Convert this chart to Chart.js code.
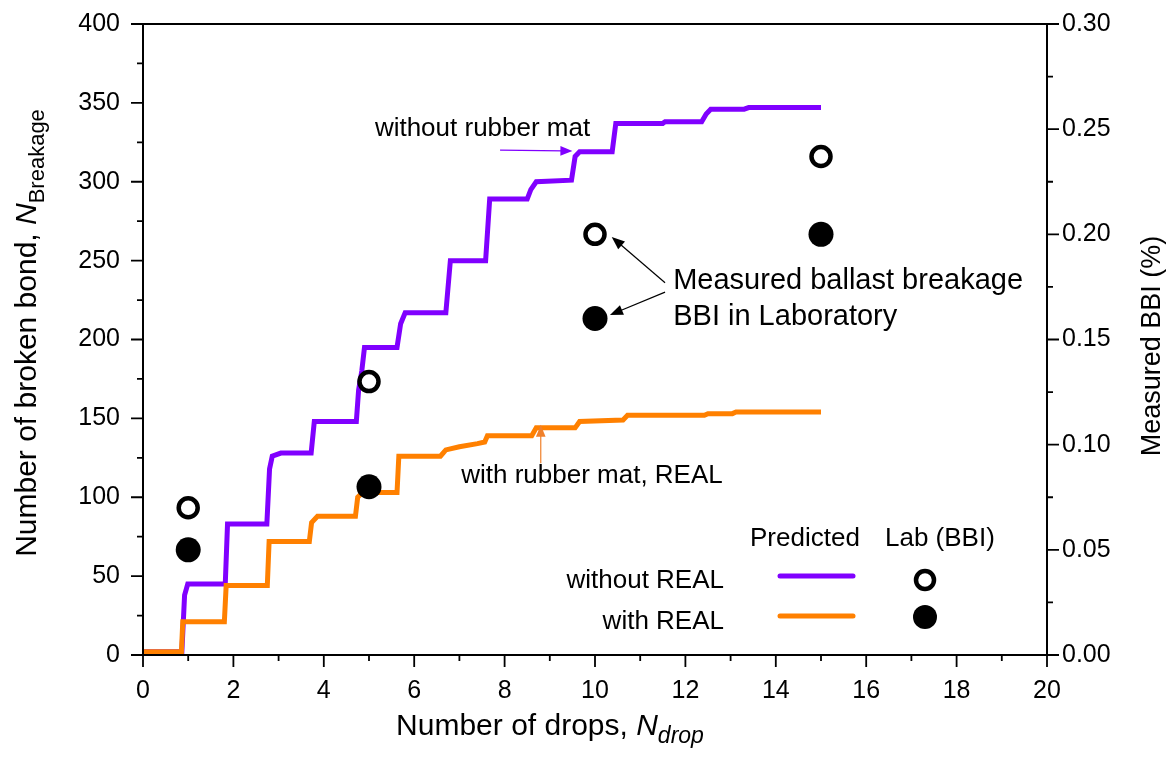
<!DOCTYPE html>
<html>
<head>
<meta charset="utf-8">
<script src="https://cdn.jsdelivr.net/npm/chart.js@4.4.1/dist/chart.umd.min.js"></script>
<style>
  body { margin: 0; background: #fff; }
</style>
</head>
<body>
<canvas id="myChart" width="1170" height="758"></canvas>
<script>
// predicted broken bonds (DEM), step curves
const withoutRealX = [0, 0.86, 0.92, 0.99, 1.82, 1.87, 2.74, 2.8, 2.86, 3.05, 3.72, 3.79, 4.72, 4.77, 4.84, 4.9, 5.62, 5.7, 5.8, 6.7, 6.8, 7.58, 7.67, 8.5, 8.58, 8.7, 9.48, 9.56, 9.66, 10.38, 10.46, 11.5, 11.55, 12.36, 12.46, 12.56, 13.3, 13.4, 15];
const withoutRealY = [2, 2, 38, 45, 45, 83, 83, 118, 126, 128, 128, 148, 148, 168, 180, 195, 195, 210, 217, 217, 250, 250, 289, 289, 295, 300, 301, 316, 319, 319, 337, 337, 338, 338, 343, 346, 346, 347, 347];

const withRealX = [0, 0.85, 0.88, 1.8, 1.84, 2.75, 2.79, 3.68, 3.73, 3.86, 4.7, 4.75, 4.86, 5.62, 5.66, 6.58, 6.7, 7.0, 7.4, 7.56, 7.62, 8.6, 8.7, 9.56, 9.66, 10.62, 10.72, 12.42, 12.5, 13.04, 13.12, 15];
const withRealY = [2, 2, 21, 21, 44, 44, 72, 72, 84, 88, 88, 100, 103, 103, 126, 126, 130, 132, 134, 135, 139, 139, 144, 144, 148, 149, 152, 152, 153, 153, 154, 154];

// measured BBI (%) in laboratory
const labDrops = [1, 5, 10, 15];
const bbiWithout = [0.07, 0.13, 0.20, 0.237];
const bbiWith = [0.05, 0.08, 0.16, 0.20];

const xTicks = [0, 2, 4, 6, 8, 10, 12, 14, 16, 18, 20];

const PURPLE = '#8000ff';
const ORANGE = '#ff8000';
const FONT = '"Liberation Sans", Arial, sans-serif';

function pts(xs, ys) {
  return xs.map((x, i) => ({ x: x, y: ys[i] }));
}

function arrow(ctx, x1, y1, x2, y2, color, head) {
  const a = Math.atan2(y2 - y1, x2 - x1);
  ctx.save();
  ctx.strokeStyle = color;
  ctx.fillStyle = color;
  ctx.lineWidth = 1.2;
  ctx.beginPath();
  ctx.moveTo(x1, y1);
  ctx.lineTo(x2 - Math.cos(a) * head * 0.8, y2 - Math.sin(a) * head * 0.8);
  ctx.stroke();
  ctx.beginPath();
  ctx.moveTo(x2, y2);
  ctx.lineTo(x2 - head * Math.cos(a) + head * 0.4 * Math.sin(a), y2 - head * Math.sin(a) - head * 0.4 * Math.cos(a));
  ctx.lineTo(x2 - head * Math.cos(a) - head * 0.4 * Math.sin(a), y2 - head * Math.sin(a) + head * 0.4 * Math.cos(a));
  ctx.closePath();
  ctx.fill();
  ctx.restore();
}

// text with an italic symbol and a subscript, left aligned at (x, y)
function subText(ctx, x, y, main, sym, sub, size, subSize, subItalic) {
  ctx.font = size + 'px ' + FONT;
  const w1 = ctx.measureText(main).width;
  ctx.font = 'italic ' + size + 'px ' + FONT;
  const w2 = ctx.measureText(sym).width;
  ctx.font = (subItalic ? 'italic ' : '') + subSize + 'px ' + FONT;
  const w3 = ctx.measureText(sub).width;
  return {
    width: w1 + w2 + w3,
    draw(x0) {
      ctx.font = size + 'px ' + FONT;
      ctx.fillText(main, x0, y);
      ctx.font = 'italic ' + size + 'px ' + FONT;
      ctx.fillText(sym, x0 + w1, y);
      ctx.font = (subItalic ? 'italic ' : '') + subSize + 'px ' + FONT;
      ctx.fillText(sub, x0 + w1 + w2, y + subSize * 0.35);
    }
  };
}

const decor = {
  id: 'decor',
  afterDraw(chart) {
    const ctx = chart.ctx;
    const a = chart.chartArea;
    const sx = chart.scales.x, sy = chart.scales.y, sy2 = chart.scales.y2;
    ctx.save();

    // frame
    ctx.strokeStyle = '#000';
    ctx.lineWidth = 2;
    ctx.strokeRect(a.left, a.top, a.right - a.left, a.bottom - a.top);

    // tick marks
    ctx.lineWidth = 1.8;
    ctx.beginPath();
    for (let v = 0; v <= 20; v += 1) {
      const p = sx.getPixelForValue(v);
      ctx.moveTo(p, a.bottom);
      ctx.lineTo(p, a.bottom + (v % 2 === 0 ? 12 : 6));
    }
    for (let v = 0; v <= 400; v += 25) {
      const p = sy.getPixelForValue(v);
      ctx.moveTo(a.left, p);
      ctx.lineTo(a.left - (v % 50 === 0 ? 12 : 6), p);
    }
    for (let i = 0; i <= 12; i++) {
      const p = sy2.getPixelForValue(i * 0.025);
      ctx.moveTo(a.right, p);
      ctx.lineTo(a.right + (i % 2 === 0 ? 12 : 6), p);
    }
    ctx.stroke();

    ctx.fillStyle = '#000';
    ctx.textBaseline = 'alphabetic';

    // bottom title
    const bt = subText(ctx, 0, 735, 'Number of drops, ', 'N', 'drop', 30, 23, true);
    bt.draw(550 - bt.width / 2);

    // left title
    ctx.save();
    ctx.translate(36, 333);
    ctx.rotate(-Math.PI / 2);
    const lt = subText(ctx, 0, 0, 'Number of broken bond, ', 'N', 'Breakage', 30, 22, false);
    lt.draw(-lt.width / 2);
    ctx.restore();

    // right title
    ctx.save();
    ctx.translate(1160, 346);
    ctx.rotate(-Math.PI / 2);
    ctx.font = '27px ' + FONT;
    ctx.textAlign = 'center';
    ctx.fillText('Measured BBI (%)', 0, 0);
    ctx.restore();

    // annotations
    ctx.font = '26px ' + FONT;
    ctx.fillText('without rubber mat', sx.getPixelForValue(5.13), sy.getPixelForValue(329));
    arrow(ctx, sx.getPixelForValue(7.9), sy.getPixelForValue(320), sx.getPixelForValue(9.5), sy.getPixelForValue(319.5), PURPLE, 12);

    ctx.fillText('with rubber mat, REAL', sx.getPixelForValue(7.04), sy.getPixelForValue(109));
    arrow(ctx, sx.getPixelForValue(8.8), sy.getPixelForValue(121.5), sx.getPixelForValue(8.8), sy.getPixelForValue(146), '#f0802a', 12);

    ctx.font = '29px ' + FONT;
    ctx.fillText('Measured ballast breakage', sx.getPixelForValue(11.73), sy.getPixelForValue(232));
    ctx.fillText('BBI in Laboratory', sx.getPixelForValue(11.73), sy.getPixelForValue(209));
    arrow(ctx, sx.getPixelForValue(11.55), sy.getPixelForValue(236), sx.getPixelForValue(10.37), sy.getPixelForValue(265), '#000', 13);
    arrow(ctx, sx.getPixelForValue(11.55), sy.getPixelForValue(230), sx.getPixelForValue(10.33), sy.getPixelForValue(215.5), '#000', 13);

    // legend
    ctx.font = '26px ' + FONT;
    ctx.textAlign = 'left';
    ctx.fillText('Predicted', 750, 546);
    ctx.fillText('Lab (BBI)', 885, 546);
    ctx.textAlign = 'right';
    ctx.fillText('without REAL', 724, 588);
    ctx.fillText('with REAL', 724, 629);
    ctx.lineCap = 'round';
    ctx.lineWidth = 5;
    ctx.strokeStyle = PURPLE;
    ctx.beginPath(); ctx.moveTo(780, 576); ctx.lineTo(853, 576); ctx.stroke();
    ctx.strokeStyle = ORANGE;
    ctx.beginPath(); ctx.moveTo(780, 616); ctx.lineTo(853, 616); ctx.stroke();
    ctx.strokeStyle = '#000';
    ctx.lineWidth = 4.5;
    ctx.fillStyle = '#fff';
    ctx.beginPath(); ctx.arc(925, 580, 9, 0, Math.PI * 2); ctx.fill(); ctx.stroke();
    ctx.fillStyle = '#000';
    ctx.beginPath(); ctx.arc(925, 617, 12, 0, Math.PI * 2); ctx.fill();

    ctx.restore();
  }
};

const tickFont = { family: FONT, size: 25 };

new Chart(document.getElementById('myChart'), {
  type: 'scatter',
  data: {
    datasets: [
      {
        label: 'without REAL',
        data: pts(withoutRealX, withoutRealY),
        showLine: true,
        borderColor: PURPLE,
        borderWidth: 5,
        pointRadius: 0,
        yAxisID: 'y',
        order: 3
      },
      {
        label: 'with REAL',
        data: pts(withRealX, withRealY),
        showLine: true,
        borderColor: ORANGE,
        borderWidth: 5,
        pointRadius: 0,
        yAxisID: 'y',
        order: 2
      },
      {
        label: 'Lab without REAL',
        data: pts(labDrops, bbiWithout),
        pointRadius: 9.5,
        pointBorderWidth: 4.5,
        pointBackgroundColor: '#fff',
        pointBorderColor: '#000',
        yAxisID: 'y2',
        order: 1
      },
      {
        label: 'Lab with REAL',
        data: pts(labDrops, bbiWith),
        pointRadius: 12.5,
        pointBorderWidth: 0,
        pointBackgroundColor: '#000',
        pointBorderColor: '#000',
        yAxisID: 'y2',
        order: 0
      }
    ]
  },
  options: {
    responsive: false,
    animation: false,
    layout: { padding: { top: 24, left: 0, right: 0, bottom: 0 } },
    plugins: { legend: { display: false }, tooltip: { enabled: false } },
    scales: {
      x: {
        type: 'linear', min: 0, max: 20,
        grid: { display: false, drawTicks: false },
        border: { display: false },
        afterBuildTicks: s => { s.ticks = xTicks.map(v => ({ value: v })); },
        ticks: { font: tickFont, color: '#000', padding: 21, maxRotation: 0 },
        afterFit: s => { s.height = 103; s.paddingLeft = 0; s.paddingRight = 0; }
      },
      y: {
        position: 'left', min: 0, max: 400,
        grid: { display: false, drawTicks: false },
        border: { display: false },
        ticks: { stepSize: 50, font: tickFont, color: '#000', padding: 23 },
        afterFit: s => { s.width = 143; s.paddingTop = 0; s.paddingBottom = 0; }
      },
      y2: {
        position: 'right', min: 0, max: 0.3,
        grid: { display: false, drawTicks: false },
        border: { display: false },
        ticks: { stepSize: 0.05, font: tickFont, color: '#000', padding: 15, callback: v => v.toFixed(2) },
        afterFit: s => { s.width = 123; s.paddingTop = 0; s.paddingBottom = 0; }
      }
    }
  },
  plugins: [decor]
});
</script>
</body>
</html>
